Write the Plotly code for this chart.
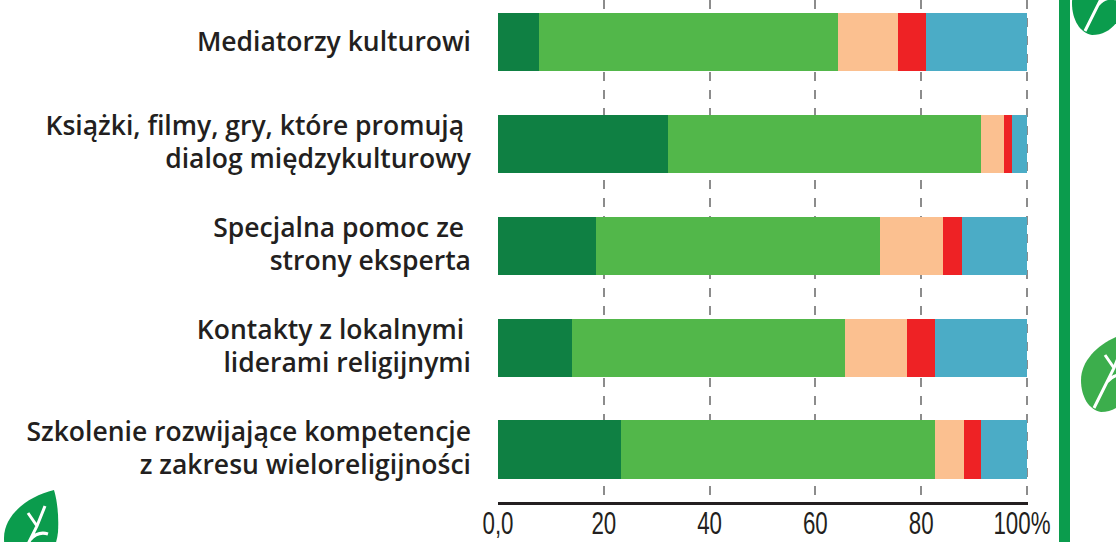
import plotly.graph_objects as go

categories = [
    "Szkolenie rozwijające kompetencje<br>z zakresu wieloreligijności",
    "Kontakty z lokalnymi\u00a0<br>liderami religijnymi",
    "Specjalna pomoc ze\u00a0<br>strony eksperta",
    "Książki, filmy, gry, które promują\u00a0<br>dialog międzykulturowy",
    "Mediatorzy kulturowi",
]
seg1 = [23.2, 14.0, 18.5, 32.1, 7.7]
seg2 = [59.4, 51.6, 53.7, 59.2, 56.6]
seg3 = [5.5, 11.7, 11.9, 4.3, 11.3]
seg4 = [3.2, 5.3, 3.6, 1.6, 5.4]
seg5 = [8.7, 17.4, 12.3, 2.8, 19.0]
colors = ["#0f8043", "#52b74a", "#fbc090", "#ee2225", "#4bacc6"]
tick_vals = [0, 20, 40, 60, 80, 100]
tick_text = ["0,0", "20", "40", "60", "80", "100%"]

L, R, T, B = 498, 88, 0, 40
W, H = 1116, 542
PW, PH = W - L - R, H - T - B


def px(x, y):
    return f"{(x - L) / PW:.5f} {1 - (y - T) / PH:.5f}"


def path(cmds):
    return " ".join(c if isinstance(c, str) else px(*c) for c in cmds)


DARK = "#0b9c4d"
LIGHT = "#3cae4c"
shapes = [
    dict(type="rect", xref="paper", yref="paper", x0=(1059 - L) / PW, x1=(1070 - L) / PW,
         y0=1 - (H - T) / PH, y1=1, fillcolor=DARK, line_width=0, layer="above"),
]


def leaf(dx, dy, color):
    """Decorative leaf, tip at upper right, in pixel coordinates."""
    f = lambda x, y: (dx + x, dy + y)
    body = path(["M", f(50, 0), "C", f(24, 6), f(0, 25), f(0, 48), "C", f(0, 65), f(8, 78), f(20, 80),
                 "C", f(40, 80), f(52, 62), f(54, 42), "C", f(55, 25), f(53, 10), f(50, 0), "Z"])
    stem = path(["M", f(13, 76), "L", f(33, 36), "L", f(41, 16), "M", f(33, 36), "L", f(24, 23),
                 "M", f(26, 50), "C", f(32, 43), f(38, 42), f(44, 44)])
    return [
        dict(type="path", xref="paper", yref="paper", path=body, fillcolor=color, line_width=0, layer="above"),
        dict(type="path", xref="paper", yref="paper", path=stem, line=dict(color="white", width=3), layer="above"),
    ]


shapes += leaf(4, 490, DARK)
shapes += leaf(1072, -45, DARK)
shapes += leaf(1081, 332, LIGHT)

fig = go.Figure()
for vals, col in zip([seg1, seg2, seg3, seg4, seg5], colors):
    fig.add_trace(go.Bar(y=list(range(5)), x=vals, orientation="h", marker=dict(color=col, line_width=0),
                         width=0.57, showlegend=False))

fig.update_layout(
    barmode="stack", width=W, height=H, margin=dict(l=L, r=R, t=T, b=B, pad=0),
    paper_bgcolor="white", plot_bgcolor="white", shapes=shapes,
    xaxis=dict(range=[0, 100.2], tickvals=tick_vals, ticktext=tick_text, showgrid=True, automargin=False,
               gridcolor="#8c8c8c", gridwidth=2, griddash="dash", zeroline=False,
               showline=True, linecolor="#231f20", linewidth=3, ticks="",
               tickfont=dict(family="Liberation Sans", size=31, color="#231f20"),
               ticklabelstandoff=-8),
    yaxis=dict(range=[-0.515, 4.412], tickvals=list(range(5)), ticktext=categories, showgrid=False,
               automargin=False, zeroline=False, showline=False, ticks="", ticklabelstandoff=26,
               tickfont=dict(family="Open Sans", size=26.5, color="#231f20", weight=600)),
)

# Page margin off; tick labels squeezed like the reference's condensed face; tighter label leading.
post = """
document.body.style.margin = '0';
document.body.style.overflow = 'hidden';
document.querySelectorAll('.xtick text').forEach(function (t) {
  var w = t.getComputedTextLength();
  t.setAttribute('textLength', w * 0.72);
  t.setAttribute('lengthAdjust', 'spacingAndGlyphs');
  if (t.textContent.indexOf('%') >= 0) { t.setAttribute('dx', -5); }
});
document.querySelectorAll('.ytick text').forEach(function (t) {
  var lines = t.querySelectorAll('tspan.line');
  if (lines.length === 2) {
    lines[0].setAttribute('dy', -1);
    lines[1].setAttribute('dy', 32);
  }
});
"""
fig.write_html("out.html", post_script=post, config=dict(displayModeBar=False))
